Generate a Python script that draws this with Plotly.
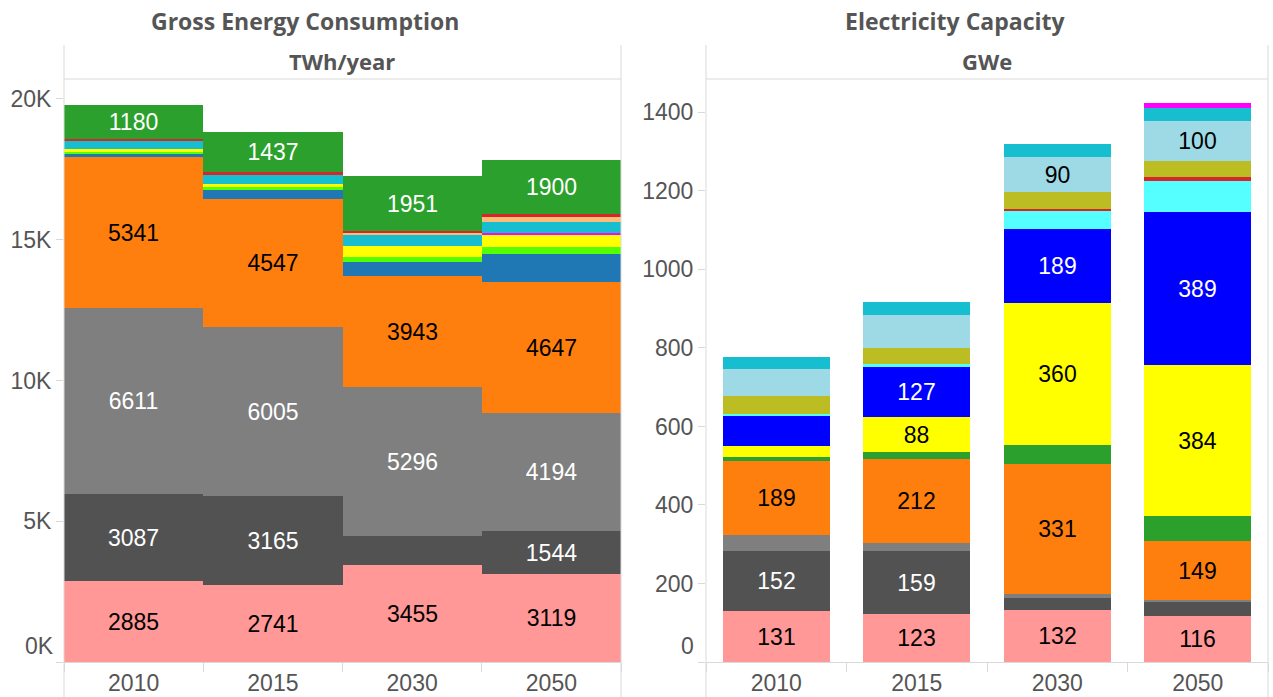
import plotly.graph_objects as go

# ---------------- data ----------------
years = ["2010", "2015", "2030", "2050"]

# Gross Energy Consumption (TWh/year), stacked bottom -> top
energy_pink = [2885, 2741, 3455, 3119]
energy_darkgray = [3087, 3165, 1030, 1544]
energy_gray = [6611, 6005, 5296, 4194]
energy_orange = [5341, 4547, 3943, 4647]
energy_blue = [119, 296, 497, 983]
energy_lawngreen = [71, 118, 178, 249]
energy_yellow = [107, 95, 391, 426]
energy_magenta = [0, 0, 0, 83]
energy_teal = [298, 344, 391, 379]
energy_lightorange = [0, 0, 83, 178]
energy_red = [71, 95, 59, 118]
energy_green = [1180, 1437, 1951, 1900]

# Electricity Capacity (GWe), stacked bottom -> top
cap_pink = [131, 123, 132, 116]
cap_darkgray = [152, 159, 31, 39]
cap_gray = [41, 22, 10, 3]
cap_orange = [189, 212, 331, 149]
cap_green = [10, 20, 50, 65]
cap_yellow = [26, 88, 360, 384]
cap_blue = [79, 127, 189, 389]
cap_cyan = [3, 8, 46, 80]
cap_red = [0, 0, 5, 10]
cap_olive = [46, 42, 43, 42]
cap_lightblue = [70, 82, 90, 100]
cap_teal = [31, 33, 33, 34]
cap_magenta = [0, 0, 0, 12]

energy_ticks = [0, 5000, 10000, 15000, 20000]
energy_ticktext = ["", "5K", "10K", "15K", "20K"]
cap_ticks = [0, 200, 400, 600, 800, 1000, 1200, 1400]
cap_ticktext = ["", "200", "400", "600", "800", "1000", "1200", "1400"]

# which segments carry a value label
ALL = [True, True, True, True]
NONE = [False, False, False, False]

energy_series = [
    ("Pink", energy_pink, "#ff9896", ALL, "black"),
    ("Dark gray", energy_darkgray, "#525252", [True, True, False, True], "white"),
    ("Gray", energy_gray, "#7f7f7f", ALL, "white"),
    ("Orange", energy_orange, "#ff7f0e", ALL, "black"),
    ("Blue", energy_blue, "#1f77b4", NONE, "white"),
    ("Lawn green", energy_lawngreen, "#55ff00", NONE, "black"),
    ("Yellow", energy_yellow, "#ffff00", NONE, "black"),
    ("Magenta", energy_magenta, "#ff00ff", NONE, "black"),
    ("Teal", energy_teal, "#17becf", NONE, "black"),
    ("Light orange", energy_lightorange, "#ffbb78", NONE, "black"),
    ("Red", energy_red, "#d62728", NONE, "white"),
    ("Green", energy_green, "#2ca02c", ALL, "white"),
]

cap_series = [
    ("Pink", cap_pink, "#ff9896", ALL, "black"),
    ("Dark gray", cap_darkgray, "#525252", [True, True, False, False], "white"),
    ("Gray", cap_gray, "#7f7f7f", NONE, "white"),
    ("Orange", cap_orange, "#ff7f0e", ALL, "black"),
    ("Green", cap_green, "#2ca02c", NONE, "white"),
    ("Yellow", cap_yellow, "#ffff00", [False, True, True, True], "black"),
    ("Blue", cap_blue, "#0000ff", [False, True, True, True], "white"),
    ("Cyan", cap_cyan, "#55ffff", NONE, "black"),
    ("Red", cap_red, "#d62728", NONE, "white"),
    ("Olive", cap_olive, "#bcbd22", NONE, "black"),
    ("Light blue", cap_lightblue, "#9edae5", [False, False, True, True], "black"),
    ("Teal", cap_teal, "#17becf", NONE, "black"),
    ("Magenta", cap_magenta, "#ff00ff", NONE, "black"),
]

# ---------------- layout helpers ----------------
W, H = 1273, 697


def px(x):
    return x / W


def py(y):
    return 1 - y / H


LABEL_FONT = "Liberation Sans, Arial, sans-serif"
TITLE_FONT = "Open Sans, sans-serif"
GREY = "#555555"
LINE = "#d9d9d9"

fig = go.Figure()


def add_series(series, xa, ya, width):
    for name, vals, color, show, tcolor in series:
        fig.add_trace(go.Bar(
            x=years, y=vals, name=name, xaxis=xa, yaxis=ya,
            marker=dict(color=color, line=dict(width=0)),
            width=width,
            text=[str(v) if s else "" for v, s in zip(vals, show)],
            textposition="inside", insidetextanchor="middle", textangle=0,
            textfont=dict(family=LABEL_FONT, size=23, color=tcolor),
            hoverinfo="x+y+name", showlegend=False,
        ))


add_series(energy_series, "x", "y", 1.0)
add_series(cap_series, "x2", "y2", 0.76)

axis_common = dict(
    tickfont=dict(family=LABEL_FONT, size=23, color=GREY),
    showgrid=False, zeroline=False,
)

fig.update_layout(
    width=W, height=H,
    margin=dict(l=0, r=0, t=0, b=0),
    paper_bgcolor="white", plot_bgcolor="white",
    barmode="stack", bargap=0,
    xaxis=dict(domain=[px(64), px(621)], anchor="y", type="category",
               showline=True, linecolor=LINE, ticks="outside",
               tickson="boundaries", ticklen=9, tickcolor=LINE, **axis_common),
    yaxis=dict(domain=[py(662), py(79)], anchor="x", range=[0, 20710],
               tickvals=energy_ticks, ticktext=energy_ticktext,
               ticks="outside", ticklen=7, tickcolor=LINE, **axis_common),
    xaxis2=dict(domain=[px(706), px(1268)], anchor="y2", type="category",
                showline=True, linecolor=LINE, ticks="outside",
                tickson="boundaries", ticklen=9, tickcolor=LINE, **axis_common),
    yaxis2=dict(domain=[py(662), py(79)], anchor="x2", range=[0, 1485],
                tickvals=cap_ticks, ticktext=cap_ticktext,
                ticks="outside", ticklen=7, tickcolor=LINE, **axis_common),
)

# frame lines (panel borders + header separator)
shapes = []
for x0, x1 in [(64, 621), (706, 1268)]:
    for xv in (x0, x1):
        shapes.append(dict(type="line", xref="paper", yref="paper",
                           x0=px(xv), x1=px(xv), y0=py(45), y1=py(697),
                           line=dict(color=LINE, width=1)))
    shapes.append(dict(type="line", xref="paper", yref="paper",
                       x0=px(x0), x1=px(x1), y0=py(79), y1=py(79),
                       line=dict(color=LINE, width=1)))
fig.update_layout(shapes=shapes)

annotations = [
    dict(text="<b>Gross Energy Consumption</b>", x=px(305), y=py(21), size=23),
    dict(text="<b>TWh/year</b>", x=px(342), y=py(61), size=22),
    dict(text="<b>Electricity Capacity</b>", x=px(955), y=py(21), size=23),
    dict(text="<b>GWe</b>", x=px(987), y=py(61), size=22),
]
for a in annotations:
    s = a.pop("size")
    a.update(xref="paper", yref="paper", showarrow=False, xanchor="center",
             yanchor="middle", font=dict(family=TITLE_FONT, size=s, color=GREY))
# zero tick labels sit slightly above the baseline
annotations.append(dict(text="0K", x=px(56), y=py(646), xref="paper", yref="paper",
                        showarrow=False, xanchor="right", yanchor="middle",
                        font=dict(family=LABEL_FONT, size=23, color=GREY)))
annotations.append(dict(text="0", x=px(696), y=py(646), xref="paper", yref="paper",
                        showarrow=False, xanchor="right", yanchor="middle",
                        font=dict(family=LABEL_FONT, size=23, color=GREY)))
fig.update_layout(annotations=annotations)

fig.write_html("out.html", config={"displayModeBar": False},
               post_script="document.body.style.margin='0';")
